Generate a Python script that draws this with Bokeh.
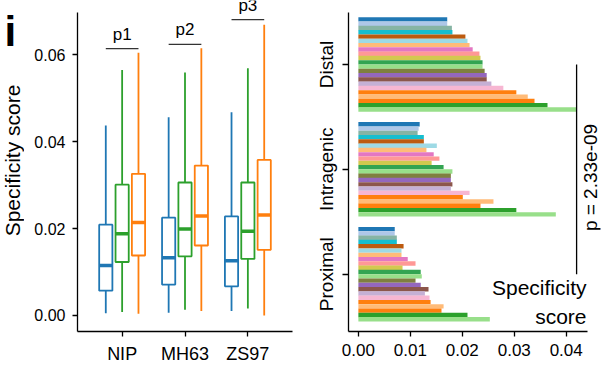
import math
from bokeh.plotting import figure
from bokeh.models import (ColumnDataSource, FactorRange, Range1d, FixedTicker,
                          NumeralTickFormatter, Label, LabelSet)
from bokeh.transform import dodge
from bokeh.layouts import row
from bokeh.embed import file_html
from bokeh.resources import INLINE
from bokeh.core.properties import value

FONT = "Liberation Sans"

# ---------------- left panel data (box plots) ----------------
cultivars = ["NIP", "MH63", "ZS97"]
series_colors = ["#1f77b4", "#2ca02c", "#ff7f0e"]
series_offsets = [-0.26, 0.0, 0.26]

blue_low = [0.0005, 0.0006, 0.0010]
blue_q1 = [0.0057, 0.0071, 0.0067]
blue_med = [0.0115, 0.0133, 0.0126]
blue_q3 = [0.0209, 0.0225, 0.0228]
blue_high = [0.0437, 0.0456, 0.0468]

green_low = [0.0008, 0.0013, 0.0016]
green_q1 = [0.0123, 0.0136, 0.0130]
green_med = [0.0188, 0.0199, 0.0194]
green_q3 = [0.0301, 0.0306, 0.0306]
green_high = [0.0565, 0.0559, 0.0569]

orange_low = [0.0004, 0.0010, 0.0000]
orange_q1 = [0.0138, 0.0161, 0.0151]
orange_med = [0.0214, 0.0229, 0.0231]
orange_q3 = [0.0326, 0.0345, 0.0358]
orange_high = [0.0605, 0.0615, 0.0669]

bracket_labels = ["p1", "p2", "p3"]
bracket_y = [0.0614, 0.0624, 0.0681]

left_ticks = [0.00, 0.02, 0.04, 0.06]
left_y_bounds = (-0.0037, 0.0697)
left_y_title = "Specificity score"
panel_letter = "i"

# ---------------- right panel data (bars) ----------------
regions = ["Proximal", "Intragenic", "Distal"]  # bottom to top
bar_colors = ["#1f77b4", "#aec7e8", "#86b4a4", "#17becf", "#bd5b10", "#9edae5",
              "#ffbb78", "#e377c2", "#ff9896", "#d2c94f", "#33a452", "#98df8a",
              "#7f7f3f", "#9467bd", "#8c564b", "#c5b0d5", "#f7b6d2", "#ff7f0e",
              "#ffbb78", "#ff7f0e", "#2ca02c", "#98df8a"]
distal = [0.0171, 0.0171, 0.0180, 0.0181, 0.0206, 0.0210, 0.0214, 0.0220, 0.0233,
          0.0235, 0.0239, 0.0239, 0.0243, 0.0247, 0.0247, 0.0256, 0.0279, 0.0304,
          0.0326, 0.0339, 0.0364, 0.0420]
intragenic = [0.0118, 0.0116, 0.0114, 0.0126, 0.0126, 0.0151, 0.0131, 0.0145, 0.0156,
              0.0141, 0.0164, 0.0181, 0.0178, 0.0178, 0.0181, 0.0178, 0.0214, 0.0201,
              0.0260, 0.0235, 0.0304, 0.0380]
proximal = [0.0070, 0.0070, 0.0074, 0.0074, 0.0087, 0.0083, 0.0083, 0.0095, 0.0110,
            0.0085, 0.0120, 0.0122, 0.0110, 0.0120, 0.0135, 0.0128, 0.0137, 0.0139,
            0.0164, 0.0160, 0.0210, 0.0253]
right_ticks = [0.00, 0.01, 0.02, 0.03, 0.04]
right_x_bounds = (-0.0019, 0.0441)
pvalue_x = 0.0420
pvalue_text = "p = 2.33e-09"
right_title = "Specificity\nscore"


def style_axes(p):
    for ax in p.axis:
        ax.axis_line_color = "black"
        ax.axis_line_width = 1.3
        ax.major_tick_line_color = "black"
        ax.major_tick_line_width = 1.3
        ax.major_tick_in = 0
        ax.major_tick_out = 5
        ax.minor_tick_line_color = None
        ax.major_label_text_font = FONT
        ax.major_label_text_color = "black"
        ax.axis_label_text_font = FONT
        ax.axis_label_text_font_style = "normal"
        ax.axis_label_text_color = "black"
    p.grid.visible = False
    p.outline_line_color = None
    p.background_fill_color = "white"
    p.border_fill_color = "white"


FRAME_H = 331
BOTTOM = 36

# ---------------- narrow strip: panel letter + y title ----------------
p0 = figure(frame_width=24, frame_height=FRAME_H, min_border_left=0, min_border_right=0,
            min_border_top=0, min_border_bottom=BOTTOM,
            x_range=Range1d(0, 1), y_range=Range1d(0, 1),
            x_axis_type=None, y_axis_type=None,
            output_backend="svg", toolbar_location=None)
p0.grid.visible = False
p0.outline_line_color = None
p0.border_fill_color = "white"
p0.background_fill_color = "white"
p0.add_layout(Label(x=4, y=300, x_units="screen", y_units="screen", text=panel_letter,
                    text_font=FONT, text_font_style="bold", text_font_size="42px",
                    text_color="black", text_align="left", text_baseline="alphabetic"))
p0.add_layout(Label(x=12, y=171, x_units="screen", y_units="screen", text=left_y_title,
                    angle=math.pi / 2, text_align="center", text_baseline="middle",
                    text_font=FONT, text_font_size="21px", text_color="black"))

# ---------------- left figure ----------------
p1 = figure(x_range=FactorRange(*cultivars, range_padding=0.21, range_padding_units="absolute"),
            y_range=Range1d(-0.0037, 0.0725),
            frame_width=215, frame_height=FRAME_H,
            min_border_left=53, min_border_right=10, min_border_top=0, min_border_bottom=BOTTOM,
            output_backend="svg", toolbar_location=None)

series = [
    (blue_low, blue_q1, blue_med, blue_q3, blue_high),
    (green_low, green_q1, green_med, green_q3, green_high),
    (orange_low, orange_q1, orange_med, orange_q3, orange_high),
]
box_w = 0.21
for (low, q1, med, q3, high), col, off in zip(series, series_colors, series_offsets):
    src = ColumnDataSource(dict(cult=cultivars, low=low, q1=q1, med=med, q3=q3, high=high))
    xd = dodge("cult", off, range=p1.x_range)
    p1.segment(x0=xd, y0="q3", x1=xd, y1="high", source=src, line_color=col, line_width=1.8)
    p1.segment(x0=xd, y0="low", x1=xd, y1="q1", source=src, line_color=col, line_width=1.8)
    p1.vbar(x=xd, width=box_w, bottom="q1", top="q3", source=src,
            fill_color="white", line_color=col, line_width=1.8)
    p1.segment(x0=dodge("cult", off - box_w / 2, range=p1.x_range), y0="med",
               x1=dodge("cult", off + box_w / 2, range=p1.x_range), y1="med",
               source=src, line_color=col, line_width=3.5)

bsrc = ColumnDataSource(dict(cult=cultivars, y=bracket_y, lab=bracket_labels))
p1.segment(x0=dodge("cult", series_offsets[0], range=p1.x_range), y0="y",
           x1=dodge("cult", series_offsets[2], range=p1.x_range), y1="y",
           source=bsrc, line_color="#333333", line_width=1.3)
p1.add_layout(LabelSet(x="cult", y="y", text="lab", source=bsrc, y_offset=9,
                       text_align="center", text_baseline="alphabetic",
                       text_font=value(FONT), text_font_size=value("17px"),
                       text_color="black"))

p1.yaxis.ticker = FixedTicker(ticks=left_ticks)
p1.yaxis.formatter = NumeralTickFormatter(format="0.00")
p1.yaxis.bounds = left_y_bounds
style_axes(p1)
p1.yaxis.major_label_text_font_size = "16px"
p1.xaxis.major_label_text_font_size = "18px"
p1.yaxis.major_label_standoff = 7
p1.xaxis.major_label_standoff = 7

# ---------------- right figure ----------------
region_pos = [i + 0.5 for i in range(len(regions))]
p2 = figure(y_range=Range1d(-0.0465, 3.110),
            x_range=Range1d(-0.0019, 0.0466),
            frame_width=252, frame_height=FRAME_H,
            min_border_left=46, min_border_right=2, min_border_top=0, min_border_bottom=BOTTOM,
            output_backend="svg", toolbar_location=None)

n = len(bar_colors)
group_h = 0.9
bar_h = group_h / n
for j in range(n):
    off = group_h / 2 - (j + 0.5) * bar_h
    src = ColumnDataSource(dict(y=[pos + off for pos in region_pos],
                                val=[proximal[j], intragenic[j], distal[j]]))
    p2.hbar(y="y", left=0, right="val", height=bar_h * 1.02,
            source=src, fill_color=bar_colors[j], line_color=None)

psrc = ColumnDataSource(dict(x=[pvalue_x], y0=[region_pos[0]], y1=[region_pos[-1]]))
p2.segment(x0="x", y0="y0", x1="x", y1="y1", source=psrc, line_color="black", line_width=1.3)
p2.add_layout(Label(x=242, y=154, x_units="screen", y_units="screen", text=pvalue_text,
                    angle=math.pi / 2, text_align="center", text_baseline="middle",
                    text_font=FONT, text_font_size="19px", text_color="black"))
p2.add_layout(Label(x=238, y=3, x_units="screen", y_units="screen", text=right_title,
                    text_align="right", text_baseline="bottom", text_line_height=1.3,
                    text_font=FONT, text_font_size="21px", text_color="black"))

p2.xaxis.ticker = FixedTicker(ticks=right_ticks)
p2.xaxis.formatter = NumeralTickFormatter(format="0.00")
p2.xaxis.bounds = right_x_bounds
p2.yaxis.ticker = FixedTicker(ticks=region_pos)
p2.yaxis.major_label_overrides = {pos: name for pos, name in zip(region_pos, regions)}
p2.yaxis.bounds = (-0.0465, 2.996)
style_axes(p2)
p2.xaxis.major_label_text_font_size = "17px"
p2.yaxis.major_label_text_font_size = "19px"
p2.yaxis.major_label_orientation = "vertical"
p2.yaxis.major_tick_out = 6
p2.yaxis.major_label_standoff = 5
p2.xaxis.major_label_standoff = 7

layout = row(p0, p1, p2)
open("out.html", "w").write(file_html(layout, INLINE))
